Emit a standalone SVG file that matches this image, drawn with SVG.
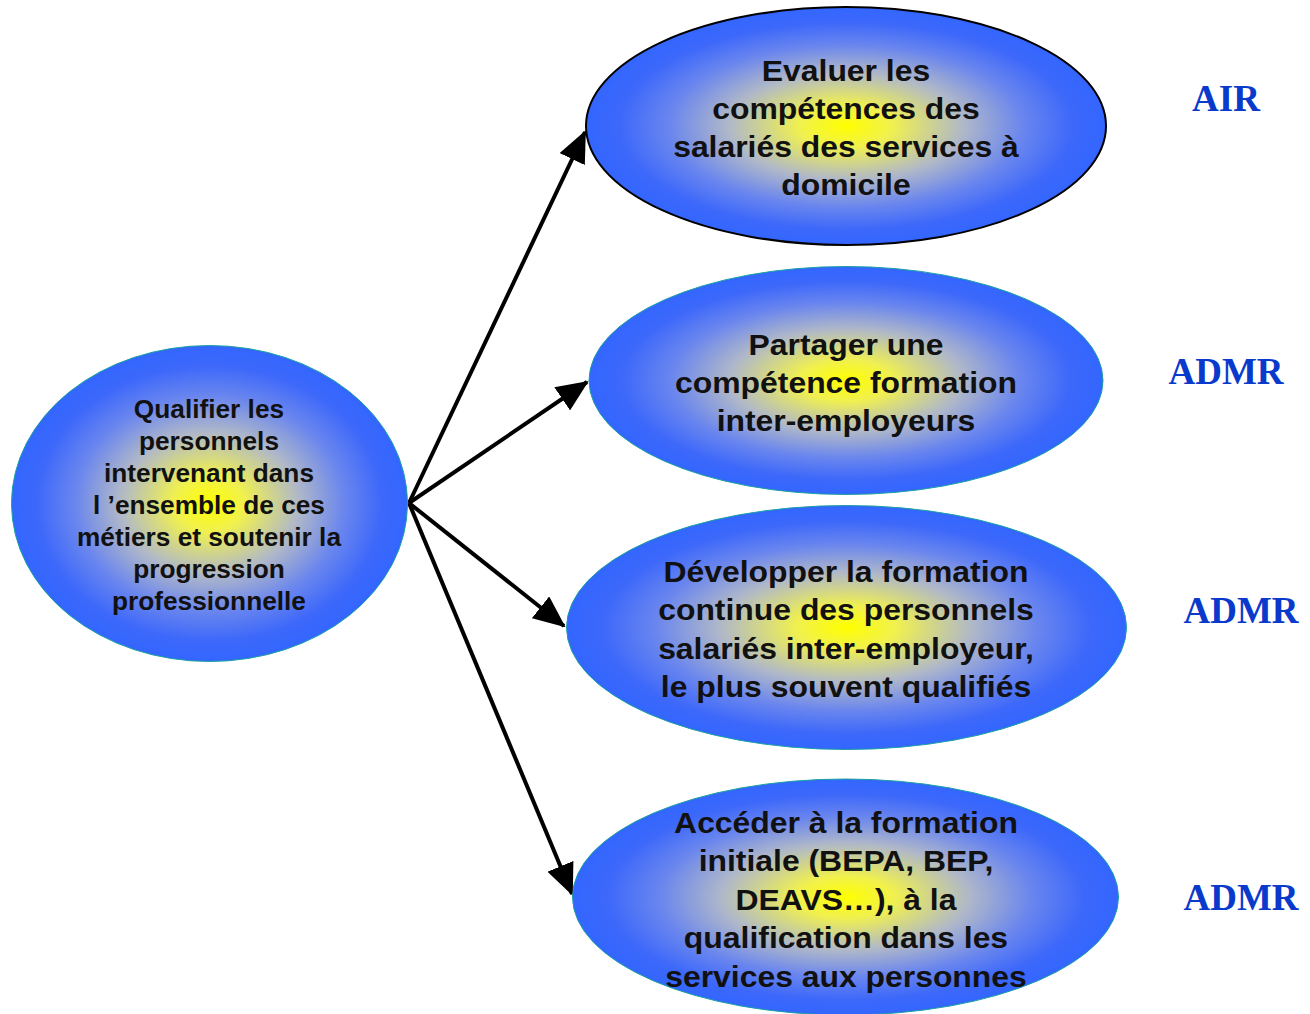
<svg xmlns="http://www.w3.org/2000/svg" width="1310" height="1014" viewBox="0 0 1310 1014">
<style>
.t{font-family:"Liberation Sans",Arial,sans-serif;font-weight:bold;fill:#111;text-anchor:middle}
.big{font-size:29px}
.small{font-size:25px}
.lab{font-family:"Liberation Serif","Times New Roman",serif;font-weight:bold;font-size:37px;fill:#0a3acc;text-anchor:middle}
.edge{stroke:#000;stroke-width:4;fill:none;marker-end:url(#ah)}
</style>
<defs>
<radialGradient id="g" cx="0.5" cy="0.5" r="0.5">
<stop offset="0" stop-color="#ffff00"/>
<stop offset="0.18" stop-color="#f0f050"/>
<stop offset="0.45" stop-color="#b0b8c8"/>
<stop offset="0.68" stop-color="#6a86ee"/>
<stop offset="0.87" stop-color="#3d68fa"/>
<stop offset="1" stop-color="#3366ff"/>
</radialGradient>
<marker id="ah" markerWidth="8" markerHeight="7" refX="7.5" refY="3.5" orient="auto" markerUnits="strokeWidth">
<path d="M0,0 L8,3.5 L0,7 Z" fill="#000"/>
</marker>
</defs>
<g id="connectors">
<line class="edge" x1="409" y1="503" x2="585" y2="132"/>
<line class="edge" x1="409" y1="503" x2="587" y2="382"/>
<line class="edge" x1="409" y1="503" x2="564" y2="626"/>
<line class="edge" x1="409" y1="503" x2="572" y2="894"/>
</g>
<g id="n0">
<ellipse cx="209.5" cy="503.5" rx="198" ry="158" fill="url(#g)" stroke="#1aa0a0" stroke-width="1"/>
<g transform="translate(209,0) scale(1.05,1) translate(-209,0)">
<text class="t small" x="209" y="418">Qualifier les</text>
<text class="t small" x="209" y="450">personnels</text>
<text class="t small" x="209" y="482">intervenant dans</text>
<text class="t small" x="209" y="514">l ’ensemble de ces</text>
<text class="t small" x="209" y="546">métiers et soutenir la</text>
<text class="t small" x="209" y="578">progression</text>
<text class="t small" x="209" y="610">professionnelle</text>
</g>
</g>
<g id="n1">
<ellipse cx="846" cy="126" rx="260" ry="119" fill="url(#g)" stroke="#000" stroke-width="2"/>
<g transform="translate(846,0) scale(1.1,1) translate(-846,0)">
<text class="t big" x="846" y="81">Evaluer les</text>
<text class="t big" x="846" y="119">compétences des</text>
<text class="t big" x="846" y="157">salariés des services à</text>
<text class="t big" x="846" y="195">domicile</text>
</g>
</g>
<g id="n2">
<ellipse cx="846" cy="380.5" rx="257" ry="114" fill="url(#g)" stroke="#1aa0a0" stroke-width="1"/>
<g transform="translate(846,0) scale(1.1,1) translate(-846,0)">
<text class="t big" x="846" y="355">Partager une</text>
<text class="t big" x="846" y="393">compétence formation</text>
<text class="t big" x="846" y="431">inter-employeurs</text>
</g>
</g>
<g id="n3">
<ellipse cx="846.5" cy="627.5" rx="280" ry="122" fill="url(#g)" stroke="#1aa0a0" stroke-width="1"/>
<g transform="translate(846,0) scale(1.1,1) translate(-846,0)">
<text class="t big" x="846" y="582">Développer la formation</text>
<text class="t big" x="846" y="620">continue des personnels</text>
<text class="t big" x="846" y="659">salariés inter-employeur,</text>
<text class="t big" x="846" y="697">le plus souvent qualifiés</text>
</g>
</g>
<g id="n4">
<ellipse cx="845.5" cy="897" rx="273" ry="118" fill="url(#g)" stroke="#1aa0a0" stroke-width="1"/>
<g transform="translate(846,0) scale(1.1,1) translate(-846,0)">
<text class="t big" x="846" y="833">Accéder à la formation</text>
<text class="t big" x="846" y="871">initiale (BEPA, BEP,</text>
<text class="t big" x="846" y="910">DEAVS…), à la</text>
<text class="t big" x="846" y="948">qualification dans les</text>
<text class="t big" x="846" y="987">services aux personnes</text>
</g>
</g>
<g id="labels">
<text class="lab" x="1226" y="111">AIR</text>
<text class="lab" x="1226" y="384">ADMR</text>
<text class="lab" x="1241" y="623">ADMR</text>
<text class="lab" x="1241" y="910">ADMR</text>
</g>
</svg>
